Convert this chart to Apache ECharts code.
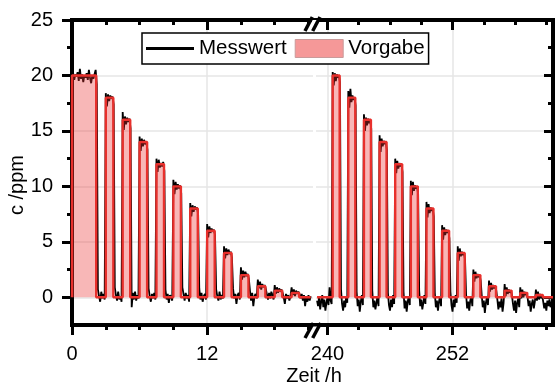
<!DOCTYPE html>
<html>
<head>
<meta charset="utf-8">
<script src="https://cdn.jsdelivr.net/npm/echarts@6/dist/echarts.min.js"></script>
<style>
  html, body { margin: 0; padding: 0; background: #fff; }
  #chart { width: 555px; height: 390px; }
</style>
</head>
<body>
<div id="chart"></div>
<script>
// ---- Axis ticks and labels ----
const xLabelsEarly = [0, 12];
const xLabelsLate = [240, 252];
const xMinorEarly = [3, 6, 9, 15, 18, 21];
const xMinorLate = [243, 246, 249, 255, 258, 261];
const yLabels = [0, 5, 10, 15, 20, 25];
const yMinor = [2.5, 7.5, 12.5, 17.5, 22.5];

// Visible time windows of the broken time axis (h)
const earlyRange = [0, 21.4];
const lateRange = [238.9, 261.64];
const yRange = [-2.5, 25];

// ---- Set point (Vorgabe): on/off times (h) and levels (ppm) ----
const vorgabeEarlyOn    = [0, 3.0, 4.5, 6.0, 7.5, 9.0, 10.5, 12.0, 13.5, 15.0, 16.5, 18.0, 19.5];
const vorgabeEarlyOff   = [2.15, 3.67, 5.17, 6.67, 8.17, 9.67, 11.17, 12.67, 14.17, 15.67, 17.17, 18.67, 20.17];
const vorgabeEarlyLevel = [20, 18, 16, 14, 12, 10, 8, 6, 4, 2, 1, 0.6, 0.4];
const vorgabeEarlySpan  = [0, 21.2];

const vorgabeLateOn    = [240.5, 242.0, 243.5, 245.0, 246.5, 248.0, 249.5, 251.0, 252.5, 254.0, 255.5, 257.0, 258.5, 260.0];
const vorgabeLateOff   = [241.17, 242.67, 244.17, 245.67, 247.17, 248.67, 250.17, 251.67, 253.17, 254.67, 256.17, 257.67, 259.17, 260.67];
const vorgabeLateLevel = [20, 18, 16, 14, 12, 10, 8, 6, 4, 2, 1, 0.6, 0.4, 0.2];
const vorgabeLateSpan  = [239.0, 261.64];

// ---- Measured concentration (Messwert), one value every 0.1 h ----
const messStep = 0.1;
const messEarlyStart = 0;
const messEarly = [
  // 0.0 - 2.9 h
  19.8, 20.2, 19.6, 20.1, 19.9, 20.3, 19.5, 20.6, 19.7, 20.1,
  19.4, 20.0, 19.8, 20.2, 19.6, 20.5, 19.8, 19.3, 20.0, 19.7,
  20.1, 20.5, 19.2, 0.7, 0.1, -0.4, 0.5, -0.1, 0.3, -0.2,
  // 3.0 - 4.4 h
  18.4, 17.2, 18.3, 17.7, 18.2, 17.9, 18.1, 17.4, 0.9, 0.2, -0.3, 0.5, -0.2, 0.1, -0.4,
  // 4.5 - 5.9 h
  16.7, 15.1, 16.3, 15.6, 16.2, 15.8, 16.1, 15.2, -0.9, 0.4, -0.2, 0.5, -0.3, 0.2, -0.1,
  // 6.0 - 7.4 h
  14.5, 13.2, 14.3, 13.6, 14.2, 13.8, 14.0, 13.3, 0.8, 0.1, -0.4, 0.3, -0.1, 0.4, -0.2,
  // 7.5 - 8.9 h
  12.5, 11.3, 12.4, 11.7, 12.1, 11.8, 12.2, 11.4, 0.7, -0.2, 0.3, -0.5, 0.2, 0.0, -0.3,
  // 9.0 - 10.4 h
  10.6, 9.3, 10.4, 9.7, 10.2, 9.8, 10.1, 9.4, 0.9, 0.3, -0.3, 0.4, -0.1, 0.2, -0.4,
  // 10.5 - 11.9 h
  8.5, 7.3, 8.3, 7.7, 8.2, 7.9, 8.1, 7.5, 0.8, -0.2, 0.4, -0.4, 0.1, 0.3, -0.2,
  // 12.0 - 13.4 h
  6.6, 5.4, 6.4, 5.8, 6.2, 5.9, 6.1, 5.6, 0.7, 0.1, -0.3, 0.5, -0.2, 0.2, -0.1,
  // 13.5 - 14.9 h
  4.6, 3.5, 4.4, 3.8, 4.3, 3.9, 4.1, 3.6, 0.8, -0.1, 0.3, -0.6, 0.2, 0.4, -0.2,
  // 15.0 - 16.4 h
  2.7, 1.6, 2.4, 1.8, 2.3, 1.9, 2.1, 1.7, 0.6, -0.3, 0.4, -0.8, 0.1, 0.3, -0.1,
  // 16.5 - 17.9 h
  1.6, 0.8, 1.4, 0.7, 1.2, 0.9, 1.1, 0.8, 0.3, -0.2, 0.4, -0.1, 0.5, 0.2, -0.2,
  // 18.0 - 19.4 h
  1.1, 0.3, 0.9, 0.4, 0.8, 0.5, 0.7, 0.4, 0.0, -0.6, 0.3, -0.1, 0.2, -0.3, 0.1,
  // 19.5 - 20.9 h
  0.9, 0.2, 0.7, 0.1, 0.6, 0.3, 0.5, 0.3, -0.1, 0.3, -0.3, 0.2, -0.8, 0.1, -0.4,
  // 21.0 - 21.2 h
  0.2, -0.3, 0.1
];
const messLateStart = 239.0;
const messLate = [
  // 239.0 - 240.4 h
  -0.3, -0.8, 0.1, -1.1, -0.4, 0.2, -0.9, -0.2, -1.2, -0.5, 0.0, -0.7, 0.9, -0.3, -0.6,
  // 240.5 - 241.9 h
  20.3, 19.1, 20.2, 19.5, 20.1, 19.8, 20.0, 19.4, 0.7, -0.6, -1.2, -0.3, -0.9, 0.1, -0.5,
  // 242.0 - 243.4 h
  18.6, 17.1, 18.8, 17.6, 18.2, 17.8, 18.0, 17.3, 0.5, -0.8, -0.2, -1.3, -0.4, 0.2, -0.7,
  // 243.5 - 244.9 h
  16.5, 15.0, 16.2, 15.5, 16.1, 15.7, 16.0, 15.2, 0.6, -0.9, -0.3, -1.1, -0.5, 0.1, -0.8,
  // 245.0 - 246.4 h
  14.6, 13.1, 14.3, 13.6, 14.1, 13.8, 14.0, 13.3, 0.4, -0.7, -1.2, -0.2, -0.9, 0.2, -0.6,
  // 246.5 - 247.9 h
  12.5, 11.2, 12.3, 11.6, 12.1, 11.8, 12.0, 11.3, 0.5, -1.0, -0.3, -1.3, -0.4, 0.1, -0.7,
  // 248.0 - 249.4 h
  10.5, 9.2, 10.4, 9.6, 10.1, 9.8, 10.0, 9.3, 0.6, -0.8, -0.2, -1.1, -0.5, 0.2, -0.6,
  // 249.5 - 250.9 h
  8.6, 7.2, 8.4, 7.6, 8.1, 7.8, 8.0, 7.3, 0.4, -0.9, -0.3, -1.2, -0.4, 0.1, -0.8,
  // 251.0 - 252.4 h
  6.5, 5.2, 6.3, 5.6, 6.1, 5.8, 6.0, 5.3, 0.5, -0.7, -1.3, -0.2, -0.9, 0.2, -0.5,
  // 252.5 - 253.9 h
  4.6, 3.3, 4.4, 3.7, 4.1, 3.8, 4.0, 3.4, 0.3, -1.0, -0.4, -1.2, -0.3, 0.1, -0.8,
  // 254.0 - 255.4 h
  2.5, 1.4, 2.3, 1.7, 2.1, 1.8, 2.0, 1.5, 0.2, -0.9, -0.3, -1.4, -0.5, 0.0, -0.7,
  // 255.5 - 256.9 h
  1.5, 0.5, 1.3, 0.7, 1.1, 0.8, 1.0, 0.6, -0.2, -1.1, -0.4, -0.9, -0.1, -1.3, -0.5,
  // 257.0 - 258.4 h
  1.2, 0.1, 0.9, 0.3, 0.7, 0.4, 0.6, 0.2, -0.6, -1.2, -0.3, -1.4, -0.5, -0.1, -0.9,
  // 258.5 - 259.9 h
  0.9, -0.1, 0.7, 0.0, 0.5, 0.2, 0.4, 0.0, -0.8, -0.3, -1.3, -0.6, -0.2, -1.0, -0.4,
  // 260.0 - 261.4 h
  0.7, -0.3, 0.5, -0.2, 0.3, -0.1, 0.2, -0.4, -1.0, -0.5, -1.2, -0.3, -0.8, -0.2, -0.9,
  // 261.5 - 261.6 h
  -0.4, -0.7
];

// ---- Builders ----
function timeSeries(start, values) {
  return values.map((v, i) => [+(start + i * messStep).toFixed(2), v]);
}
function stepSeries(on, off, level, span) {
  const pts = [[span[0], 0]];
  for (let i = 0; i < on.length; i++) {
    pts.push([on[i], 0], [on[i], level[i]], [off[i], level[i]], [off[i], 0]);
  }
  pts.push([span[1], 0]);
  return pts;
}

const FONT = '"Liberation Sans", Arial, Helvetica, sans-serif';
const RED = '#e8302c';
const FILL = 'rgba(235, 50, 50, 0.5)';
const GRID_COLOR = '#e6e6e6';
const axisLineStyle = { color: '#000', width: 4, cap: 'square' };
const tickStyle = { color: '#000', width: 3 };

function xAxes(gridIndex, range, major, minor) {
  const base = { type: 'value', gridIndex, min: range[0], max: range[1], silent: true };
  return [
    Object.assign({}, base, {
      position: 'bottom',
      axisLine: { show: true, onZero: false, lineStyle: axisLineStyle },
      axisTick: { show: true, inside: false, length: 10, customValues: major, lineStyle: tickStyle },
      axisLabel: { show: true, customValues: major, margin: 19, fontSize: 20, color: '#000', fontFamily: FONT },
      splitLine: { show: true, lineStyle: { color: GRID_COLOR, width: 1.5 } }
    }),
    Object.assign({}, base, {
      position: 'bottom',
      axisLine: { show: false, onZero: false },
      axisTick: { show: true, inside: false, length: 5, customValues: minor, lineStyle: tickStyle },
      axisLabel: { show: false },
      splitLine: { show: false }
    }),
    Object.assign({}, base, {
      position: 'top',
      axisLine: { show: true, onZero: false, lineStyle: axisLineStyle },
      axisTick: { show: true, inside: true, length: 10, customValues: major, lineStyle: tickStyle },
      axisLabel: { show: false },
      splitLine: { show: false }
    }),
    Object.assign({}, base, {
      position: 'top',
      axisLine: { show: false, onZero: false },
      axisTick: { show: true, inside: true, length: 5, customValues: minor, lineStyle: tickStyle },
      axisLabel: { show: false },
      splitLine: { show: false }
    })
  ];
}

const yBase = { type: 'value', min: yRange[0], max: yRange[1], interval: 2.5, silent: true };
const yAxes = [
  Object.assign({}, yBase, {
    gridIndex: 0, position: 'left',
    axisLine: { show: true, onZero: false, lineStyle: axisLineStyle },
    axisTick: { show: true, inside: false, length: 10, customValues: yLabels, lineStyle: tickStyle },
    axisLabel: { show: true, customValues: yLabels, margin: 19, fontSize: 20, color: '#000', fontFamily: FONT },
    splitLine: { show: true, lineStyle: { color: GRID_COLOR, width: 1.5 } }
  }),
  Object.assign({}, yBase, {
    gridIndex: 0, position: 'left',
    axisLine: { show: false, onZero: false },
    axisTick: { show: true, inside: false, length: 5, customValues: yMinor, lineStyle: tickStyle },
    axisLabel: { show: false },
    splitLine: { show: false }
  }),
  Object.assign({}, yBase, {
    gridIndex: 1, position: 'right',
    axisLine: { show: true, onZero: false, lineStyle: axisLineStyle },
    axisTick: { show: true, inside: true, length: 9, customValues: yLabels, lineStyle: tickStyle },
    axisLabel: { show: false },
    splitLine: { show: true, lineStyle: { color: GRID_COLOR, width: 1.5 } }
  }),
  Object.assign({}, yBase, {
    gridIndex: 1, position: 'right',
    axisLine: { show: false, onZero: false },
    axisTick: { show: true, inside: true, length: 5, customValues: yMinor, lineStyle: tickStyle },
    axisLabel: { show: false },
    splitLine: { show: false }
  })
];

const messLine = { color: '#000', width: 1.8 };
const vorgabeLine = { color: RED, width: 2.4 };
const series = [
  { name: 'Messwert', type: 'line', xAxisIndex: 0, yAxisIndex: 0, data: timeSeries(messEarlyStart, messEarly),
    symbol: 'none', lineStyle: messLine, itemStyle: { color: '#000' }, z: 2 },
  { name: 'Messwert', type: 'line', xAxisIndex: 4, yAxisIndex: 2, data: timeSeries(messLateStart, messLate),
    symbol: 'none', lineStyle: messLine, itemStyle: { color: '#000' }, z: 2 },
  { name: 'Vorgabe', type: 'line', xAxisIndex: 0, yAxisIndex: 0,
    data: stepSeries(vorgabeEarlyOn, vorgabeEarlyOff, vorgabeEarlyLevel, vorgabeEarlySpan),
    symbol: 'none', lineStyle: vorgabeLine, itemStyle: { color: RED },
    areaStyle: { color: FILL, origin: 0 }, z: 3 },
  { name: 'Vorgabe', type: 'line', xAxisIndex: 4, yAxisIndex: 2,
    data: stepSeries(vorgabeLateOn, vorgabeLateOff, vorgabeLateLevel, vorgabeLateSpan),
    symbol: 'none', lineStyle: vorgabeLine, itemStyle: { color: RED },
    areaStyle: { color: FILL, origin: 0 }, z: 3 }
];

// Axis-break marks "//" on the top and bottom frame lines
function breakMark(yTop, yBottom, xs) {
  const els = [{
    type: 'rect', z: 100, silent: true,
    shape: { x: 312, y: (yTop + yBottom) / 2 - 4, width: 6, height: 8 },
    style: { fill: '#fff' }
  }];
  xs.forEach(x => els.push({
    type: 'line', z: 101, silent: true,
    shape: { x1: x[0], y1: yBottom, x2: x[1], y2: yTop },
    style: { stroke: '#000', lineWidth: 3.5 }
  }));
  return els;
}

const chart = echarts.init(document.getElementById('chart'), null, { renderer: 'canvas' });
chart.setOption({
  animation: false,
  backgroundColor: '#fff',
  grid: [
    { left: 72, right: 242, top: 20, bottom: 65 },
    { left: 316, right: 2, top: 20, bottom: 65 }
  ],
  xAxis: xAxes(0, earlyRange, xLabelsEarly, xMinorEarly).concat(xAxes(1, lateRange, xLabelsLate, xMinorLate)),
  yAxis: yAxes,
  legend: {
    left: 142, top: 33,
    orient: 'horizontal',
    itemWidth: 48, itemHeight: 18, itemGap: 8,
    padding: [5, 4, 5, 4],
    borderColor: '#000', borderWidth: 1.5,
    backgroundColor: '#fff',
    textStyle: { fontSize: 20.5, color: '#000', fontFamily: FONT },
    data: [
      { name: 'Messwert', icon: 'path://M0,0 L48,0 L48,3 L0,3 Z', itemStyle: { color: '#000' } },
      { name: 'Vorgabe', icon: 'rect', itemStyle: { color: FILL, borderColor: '#c99a9a', borderWidth: 1 } }
    ]
  },
  series: series,
  graphic: [].concat(
    breakMark(17, 31, [[305, 312.3], [312.7, 320]]),
    breakMark(323, 338, [[305, 313.3], [312.7, 320.7]]),
    [
      { type: 'text', x: 17.5, y: 185, rotation: Math.PI / 2, silent: true,
        style: { text: 'c /ppm', fontSize: 20, fontFamily: FONT, fill: '#000', align: 'center', verticalAlign: 'middle' } },
      { type: 'text', x: 314, y: 376, silent: true,
        style: { text: 'Zeit /h', fontSize: 20, fontFamily: FONT, fill: '#000', align: 'center', verticalAlign: 'middle' } }
    ]
  )
});
</script>
</body>
</html>
